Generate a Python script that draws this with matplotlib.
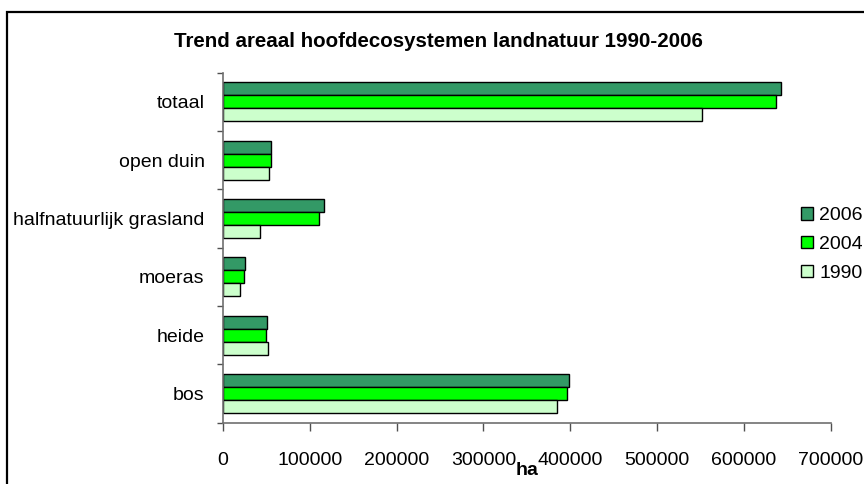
import matplotlib
matplotlib.use("Agg")
import matplotlib.pyplot as plt
from matplotlib.patches import Rectangle
import numpy as np

plt.rcParams['font.family'] = ['Liberation Sans', 'DejaVu Sans']

categories = ['bos', 'heide', 'moeras', 'halfnatuurlijk grasland', 'open duin', 'totaal']
years = ['2006', '2004', '1990']
v2006 = [398000, 50500, 25300, 116000, 55300, 642500]
v2004 = [396000, 50300, 25000, 111300, 55000, 636400]
v1990 = [385000, 52500, 19600, 43300, 53700, 552000]
colors = ['#339966', '#00FF00', '#CCFFCC']
xticks = [0, 100000, 200000, 300000, 400000, 500000, 600000, 700000]

fig = plt.figure(figsize=(8.64, 4.84), dpi=100)
ax = fig.add_axes([0.2578, 0.1267, 0.9618 - 0.2578, 0.8498 - 0.1267])

y = np.arange(len(categories))
h = 0.223
for vals, off, col, lab in zip([v2006, v2004, v1990], [h, 0, -h], colors, years):
    ax.barh(y + off, vals, height=h, color=col, edgecolor='black', linewidth=1.0, label=lab)

fs = 14
ax.set_xlim(0, 700000)
ax.set_ylim(-0.5, len(categories) - 0.5)
ax.set_xticks(xticks)
ax.set_xticklabels([str(t) for t in xticks], fontsize=fs)
ax.set_yticks(np.arange(-0.5, len(categories), 1.0))
ax.set_yticklabels([])
ax.set_yticks(y, minor=True)
ax.set_yticklabels(categories, minor=True, fontsize=fs)
ax.tick_params(axis='y', which='minor', length=0, pad=13)
ax.tick_params(axis='y', which='major', length=4.5, width=1, color='#505050')
ax.tick_params(axis='x', length=6, width=1, color='#505050', pad=15)
for s in ['top', 'right']:
    ax.spines[s].set_visible(False)
for s in ['left', 'bottom']:
    ax.spines[s].set_color('#707070')
    ax.spines[s].set_linewidth(1.2)

ax.set_xlabel('ha', fontsize=fs, fontweight='bold', labelpad=-5)

fig.text(0.5075, 0.915, 'Trend areaal hoofdecosystemen landnatuur 1990-2006',
         ha='center', va='center', fontsize=14.8, fontweight='bold')

handles, labels = ax.get_legend_handles_labels()
leg = fig.legend(handles, labels, loc='center left', bbox_to_anchor=(0.918, 0.495),
                 frameon=False, fontsize=fs, handlelength=0.6, handleheight=0.6,
                 handletextpad=0.35, labelspacing=0.6, borderaxespad=0)

fig.add_artist(Rectangle((0.0085, -0.1), 1.2, 1.0 - 12 / 484 + 0.1,
                         transform=fig.transFigure, fill=False,
                         edgecolor='black', linewidth=1.6))

fig.savefig('out.png', dpi=100)
